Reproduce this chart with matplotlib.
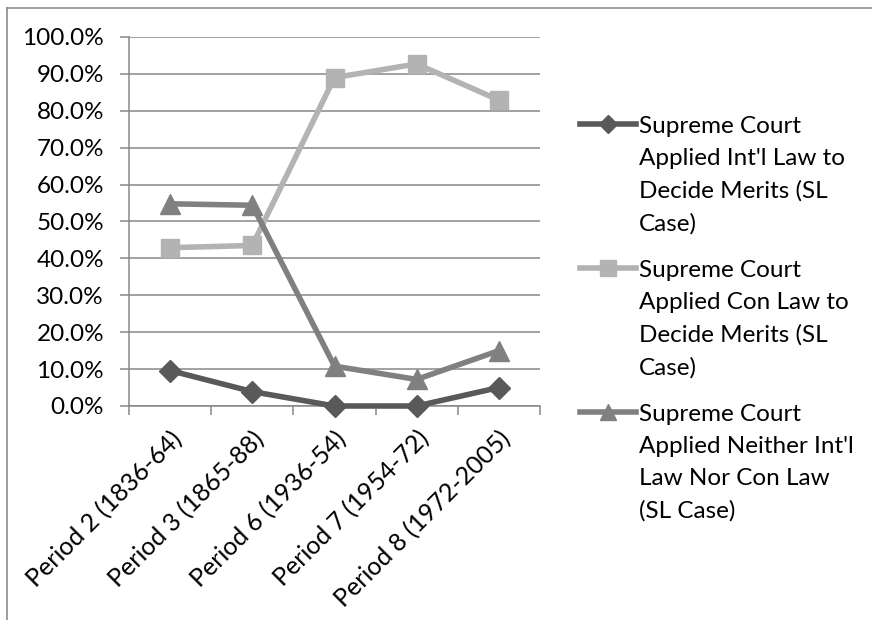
import matplotlib
matplotlib.use("Agg")
import matplotlib.pyplot as plt
from matplotlib.lines import Line2D
from matplotlib.ticker import FixedLocator, PercentFormatter

categories = ["Period 2 (1836-64)", "Period 3 (1865-88)", "Period 6 (1936-54)",
              "Period 7 (1954-72)", "Period 8 (1972-2005)"]
intl_law = [9.6, 3.9, 0.0, 0.0, 5.0]
con_law = [42.9, 43.5, 89.0, 92.7, 82.9]
neither = [54.8, 54.4, 10.8, 7.2, 15.0]
series_labels = [
    "Supreme Court\nApplied Int'l Law to\nDecide Merits (SL\nCase)",
    "Supreme Court\nApplied Con Law to\nDecide Merits (SL\nCase)",
    "Supreme Court\nApplied Neither Int'l\nLaw Nor Con Law\n(SL Case)",
]
y_ticks = [0, 10, 20, 30, 40, 50, 60, 70, 80, 90, 100]

plt.rcParams['font.family'] = ['Lato', 'DejaVu Sans']
FS = 17.5

W, H = 872, 620
fig = plt.figure(figsize=(W / 100, H / 100), dpi=100)
ax = fig.add_axes([129 / W, 1 - 406 / H, (540 - 129) / W, (406 - 37) / H])

styles = [
    dict(color="#595959", marker="D", ms=11),
    dict(color="#b3b3b3", marker="s", ms=13),
    dict(color="#808080", marker="^", ms=14),
]
data = [intl_law, con_law, neither]
x = list(range(len(categories)))
for vals, st in zip(data, styles):
    ax.plot(x, vals, color=st["color"], lw=4, marker=st["marker"],
            ms=st["ms"], mfc=st["color"], mec=st["color"], zorder=3,
            clip_on=False)

ax.set_xlim(-0.5, len(categories) - 0.5)
ax.set_ylim(0, 100)
ax.yaxis.set_major_locator(FixedLocator(y_ticks))
ax.yaxis.set_major_formatter(PercentFormatter(decimals=1))
ax.grid(axis='y', color="#878787", lw=1.1)
ax.set_axisbelow(True)
for s in ["top", "right"]:
    ax.spines[s].set_visible(False)
for s in ["left", "bottom"]:
    ax.spines[s].set_color("#878787")
    ax.spines[s].set_linewidth(1.1)

ax.set_xticks(x)
ax.set_xticklabels(categories, rotation=45, ha='right', rotation_mode='anchor',
                   fontsize=18)
ax.tick_params(axis='x', length=0, pad=15)
ax.set_xticks([i - 0.5 for i in range(len(categories) + 1)], minor=True)
ax.tick_params(axis='x', which='minor', length=6.5, width=1.1, color="#878787")
ax.tick_params(axis='y', length=6.5, width=1.1, color="#878787", pad=11.5,
               labelsize=FS)

# legend drawn manually with top-aligned handles
leg_y = [124, 268, 412]
for lab, st, yy in zip(series_labels, styles, leg_y):
    yf = 1 - yy / H
    fig.add_artist(Line2D([580 / W, 636 / W], [yf, yf], color=st["color"], lw=4,
                          transform=fig.transFigure))
    fig.add_artist(Line2D([608 / W], [yf], color=st["color"], marker=st["marker"],
                          ms=st["ms"] * 0.85, mfc=st["color"], mec=st["color"],
                          transform=fig.transFigure))
    fig.text(639 / W, 1 - (yy - 8) / H, lab, fontsize=FS, va='top', ha='left',
             linespacing=1.64)

# outer chart frame (top and left visible)
fig.add_artist(Line2D([7 / W, 7 / W], [0, 1 - 8 / H], color="#8c8c8c", lw=1.2,
                      transform=fig.transFigure))
fig.add_artist(Line2D([7 / W, 1], [1 - 8 / H, 1 - 8 / H], color="#8c8c8c", lw=1.2,
                      transform=fig.transFigure))

fig.savefig("out.png", dpi=100)
